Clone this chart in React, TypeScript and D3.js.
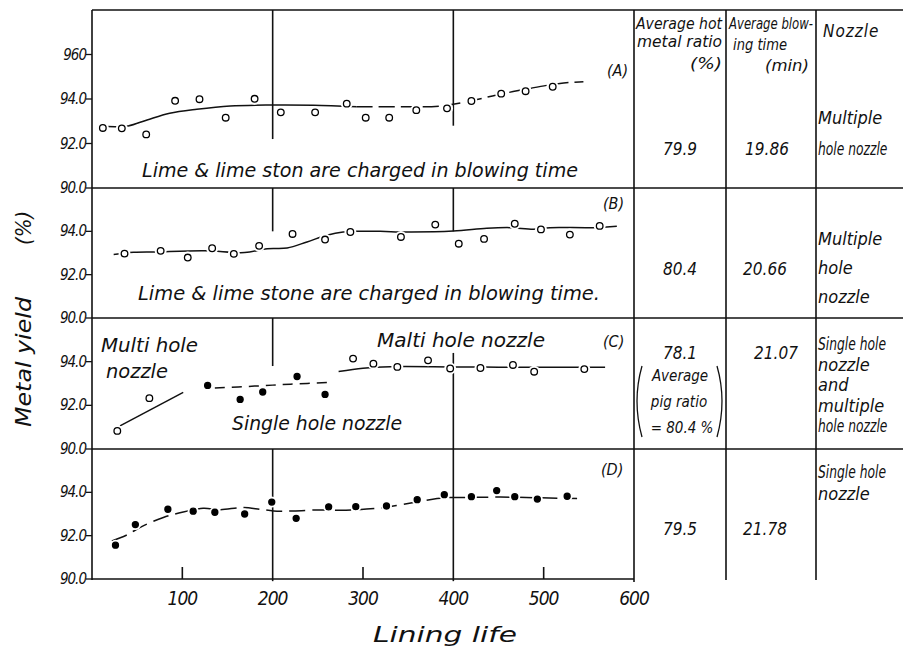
import * as d3 from 'd3';
import React from 'react';

// lining life (heats) / metal yield (%)
const aCircleX = [12, 33, 60, 92, 119, 148, 180, 209, 247, 282, 303, 329, 359, 393, 420, 453, 480, 510];
const aCircleY = [92.7, 92.68, 92.41, 93.92, 93.99, 93.16, 94.01, 93.4, 93.4, 93.79, 93.16, 93.16, 93.5, 93.58, 93.91, 94.24, 94.35, 94.55];
const aCurveSolidX = [17, 40, 61, 86, 116, 153, 199, 245, 293];
const aCurveSolidY = [92.76, 92.79, 93.06, 93.36, 93.54, 93.69, 93.73, 93.72, 93.65];
const aCurveDashX = [293, 345, 387, 415, 448, 485, 518, 544];
const aCurveDashY = [93.65, 93.65, 93.69, 93.88, 94.18, 94.48, 94.7, 94.78];

const bCircleX = [36, 76, 106, 133, 157, 185, 222, 258, 286, 342, 380, 406, 434, 468, 497, 529, 562];
const bCircleY = [92.97, 93.1, 92.79, 93.22, 92.96, 93.33, 93.88, 93.62, 93.97, 93.74, 94.31, 93.43, 93.65, 94.35, 94.09, 93.85, 94.25];
const bCurveX = [24, 46, 70, 125, 169, 194, 216, 238, 260, 278, 293, 319, 348, 400, 437, 463, 489, 507, 555, 581];
const bCurveY = [92.93, 93.03, 93.05, 93.1, 93.02, 93.2, 93.23, 93.51, 93.82, 93.97, 94.0, 94.0, 93.97, 94.01, 94.14, 94.17, 94.1, 94.17, 94.17, 94.24];

const cMultiLeftX = [28, 63.5];
const cMultiLeftY = [90.83, 92.33];
const cMultiLeftLineX = [31, 101];
const cMultiLeftLineY = [91.06, 92.59];
const cSingleX = [128, 164, 189, 227, 258];
const cSingleY = [92.91, 92.27, 92.61, 93.32, 92.5];
const cSingleLineX = [136, 180, 220, 264];
const cSingleLineY = [92.79, 92.88, 92.97, 93.05];
const cMultiRightX = [289, 311.5, 338, 372, 396.5, 430, 466, 489.5, 545];
const cMultiRightY = [94.14, 93.91, 93.76, 94.06, 93.69, 93.71, 93.85, 93.54, 93.66];
const cMultiRightLineX = [273, 300, 330, 400, 450, 500, 568];
const cMultiRightLineY = [93.55, 93.7, 93.77, 93.76, 93.75, 93.74, 93.75];

const dDotX = [26, 48, 84, 112, 136, 169, 199, 226, 262, 292, 326, 360, 390, 420, 448, 468, 493, 526];
const dDotY = [91.56, 92.51, 93.22, 93.13, 93.08, 93.0, 93.55, 92.8, 93.33, 93.34, 93.37, 93.66, 93.89, 93.8, 94.08, 93.8, 93.69, 93.82];
const dCurveX = [22, 38, 55, 79, 101, 123, 142, 167, 186, 201, 223, 252, 276, 319, 345, 382, 393, 407, 452, 537];
const dCurveY = [91.76, 92.02, 92.42, 92.84, 93.09, 93.26, 93.2, 93.3, 93.22, 93.14, 93.14, 93.19, 93.17, 93.28, 93.45, 93.71, 93.76, 93.76, 93.78, 93.71];

const xTicks = [100, 200, 300, 400, 500, 600];
const aTicks = ['90.0', '92.0', '94.0', '960'];
const bcdTicks = ['90.0', '92.0', '94.0'];
const avgHotMetal = ['79.9', '80.4', '78.1', '79.5'];
const avgBlowTime = ['19.86', '20.66', '21.07', '21.78'];
const nozzleLines = [
  ['Multiple', 'hole nozzle'],
  ['Multiple', 'hole', 'nozzle'],
  ['Single hole', 'nozzle', 'and', 'multiple', 'hole nozzle'],
  ['Single hole', 'nozzle'],
];

const FONT = "'DejaVu Sans Condensed', 'Liberation Sans Narrow', sans-serif";
const zip = (xs: number[], ys: number[]) => xs.map((x, i) => [x, ys[i]] as [number, number]);

const App = () => {
  const x = d3.scaleLinear().domain([0, 600]).range([92, 634]);
  // one y scale per panel
  const yA = d3.scaleLinear().domain([90, 98]).range([188, 10]);
  const yB = d3.scaleLinear().domain([90, 96]).range([318, 188]);
  const yC = d3.scaleLinear().domain([90, 96]).range([449, 318]);
  const yD = d3.scaleLinear().domain([90, 96]).range([579, 449]);

  const lineOf = (y: d3.ScaleLinear<number, number>, xs: number[], ys: number[]) =>
    d3
      .line<[number, number]>()
      .x((d) => x(d[0]))
      .y((d) => y(d[1]))
      .curve(d3.curveCatmullRom.alpha(0.5))(zip(xs, ys)) || '';

  const circles = (y: d3.ScaleLinear<number, number>, xs: number[], ys: number[], filled: boolean, key: string) =>
    xs.map((v, i) => (
      <g key={key + i}>
        <circle cx={x(v)} cy={y(ys[i])} r={filled ? 5.5 : 6} fill="white" />
        <circle
          cx={x(v)}
          cy={y(ys[i])}
          r={filled ? 3 : 3.3}
          fill={filled ? 'black' : 'white'}
          stroke="black"
          strokeWidth={1.3}
        />
      </g>
    ));

  const stroke = { stroke: '#111', strokeWidth: 1.5, fill: 'none' };
  const txt = { fontFamily: FONT, fontStyle: 'italic' as const, fill: '#111' };

  const yTickLabels = (y: d3.ScaleLinear<number, number>, labels: string[], key: string) =>
    labels.map((l) => {
      const v = l === '960' ? 96 : parseFloat(l);
      return (
        <g key={key + l}>
          <line x1={86} x2={92} y1={y(v)} y2={y(v)} stroke="#111" strokeWidth={1.3} />
          <text x={86} y={y(v) + 5} textAnchor="end" fontSize={15} letterSpacing={-1} {...txt}>
            {l}
          </text>
        </g>
      );
    });

  const rowMid = [148, 268, 352, 528];

  return (
    <svg
      width={903}
      height={650}
      style={{ position: 'absolute', left: 0, top: 0, background: 'white' }}
    >
      <rect width={903} height={650} fill="white" />

      {/* frame */}
      <g stroke="#111" strokeWidth={1.6}>
        <line x1={92} x2={92} y1={10} y2={580} />
        <line x1={634} x2={634} y1={10} y2={582} />
        <line x1={726} x2={726} y1={10} y2={580} />
        <line x1={816} x2={816} y1={10} y2={580} />
        {[10, 188, 318, 449].map((yy) => (
          <line key={yy} x1={92} x2={903} y1={yy} y2={yy} />
        ))}
        <line x1={92} x2={634} y1={579} y2={579} />
        {/* partial verticals at 200 and 400 */}
        <line x1={x(200)} x2={x(200)} y1={yA(98)} y2={yA(92.2)} />
        <line x1={x(400)} x2={x(400)} y1={yA(98)} y2={yA(92.8)} />
        <line x1={x(200)} x2={x(200)} y1={yB(96)} y2={yB(94)} />
        <line x1={x(400)} x2={x(400)} y1={yB(96)} y2={yB(94)} />
        <line x1={x(200)} x2={x(200)} y1={yC(96)} y2={yC(93.8)} />
        <line x1={x(400)} x2={x(400)} y1={yC(94.4)} y2={yC(90)} />
        <line x1={x(200)} x2={x(200)} y1={yD(96)} y2={yD(89.9)} />
        <line x1={x(400)} x2={x(400)} y1={yD(96)} y2={yD(89.9)} />
        {[100, 300, 500].map((t) => (
          <line key={t} x1={x(t)} x2={x(t)} y1={yD(90)} y2={yD(90) - 12} />
        ))}
      </g>

      {/* y tick labels */}
      {yTickLabels(yA, aTicks, 'a')}
      {yTickLabels(yB, bcdTicks, 'b')}
      {yTickLabels(yC, bcdTicks, 'c')}
      {yTickLabels(yD, bcdTicks, 'd')}

      {/* x tick labels */}
      {xTicks.map((t) => (
        <text key={t} x={x(t)} y={605} textAnchor="middle" fontSize={19} letterSpacing={-1} {...txt}>
          {t}
        </text>
      ))}
      <text x={373} y={642} fontSize={22} textLength={144} lengthAdjust="spacingAndGlyphs" {...txt}>
        Lining life
      </text>
      <text transform="translate(31,427) rotate(-90)" fontSize={22} {...txt}>
        <tspan textLength={130} lengthAdjust="spacingAndGlyphs">Metal yield</tspan>
        <tspan dx={52}>(%)</tspan>
      </text>

      {/* panel A */}
      <path d={lineOf(yA, aCurveSolidX, aCurveSolidY)} {...stroke} />
      <path d={lineOf(yA, aCurveDashX, aCurveDashY)} {...stroke} strokeDasharray="16 6" />
      {circles(yA, aCircleX, aCircleY, false, 'a')}
      <text x={607} y={76} fontSize={16} {...txt}>(A)</text>
      <text x={142} y={177} fontSize={19} textLength={436} lengthAdjust="spacingAndGlyphs" {...txt}>
        Lime &amp; lime ston are charged in blowing time
      </text>

      {/* panel B */}
      <path d={lineOf(yB, bCurveX, bCurveY)} {...stroke} />
      {circles(yB, bCircleX, bCircleY, false, 'b')}
      <text x={603} y={209} fontSize={16} {...txt}>(B)</text>
      <text x={138} y={300} fontSize={19} textLength={462} lengthAdjust="spacingAndGlyphs" {...txt}>
        Lime &amp; lime stone are charged in blowing time.
      </text>

      {/* panel C */}
      <path d={lineOf(yC, cMultiLeftLineX, cMultiLeftLineY)} {...stroke} />
      <path d={lineOf(yC, cSingleLineX, cSingleLineY)} {...stroke} strokeDasharray="10 7" />
      <path d={lineOf(yC, cMultiRightLineX, cMultiRightLineY)} {...stroke} />
      {circles(yC, cMultiLeftX, cMultiLeftY, false, 'cl')}
      {circles(yC, cSingleX, cSingleY, true, 'cs')}
      {circles(yC, cMultiRightX, cMultiRightY, false, 'cr')}
      <text x={101} y={352} fontSize={19} textLength={97} lengthAdjust="spacingAndGlyphs" {...txt}>Multi hole</text>
      <text x={106} y={378} fontSize={19} textLength={62} lengthAdjust="spacingAndGlyphs" {...txt}>nozzle</text>
      <text x={377} y={347} fontSize={19} textLength={168} lengthAdjust="spacingAndGlyphs" {...txt}>Malti hole nozzle</text>
      <text x={232} y={430} fontSize={19} textLength={170} lengthAdjust="spacingAndGlyphs" {...txt}>Single hole nozzle</text>
      <text x={603} y={347} fontSize={16} {...txt}>(C)</text>

      {/* panel D */}
      <path d={lineOf(yD, dCurveX, dCurveY)} {...stroke} strokeDasharray="16 7" />
      {circles(yD, dDotX, dDotY, true, 'd')}
      <text x={601} y={475} fontSize={16} {...txt}>(D)</text>

      {/* table header */}
      <g fontSize={15} {...txt}>
        <text x={636} y={29} textLength={86} lengthAdjust="spacingAndGlyphs">Average hot</text>
        <text x={637} y={47} textLength={85} lengthAdjust="spacingAndGlyphs">metal ratio</text>
        <text x={690} y={69} textLength={32} lengthAdjust="spacingAndGlyphs">(%)</text>
        <text x={729} y={29} textLength={84} lengthAdjust="spacingAndGlyphs">Average blow-</text>
        <text x={733} y={50} textLength={54} lengthAdjust="spacingAndGlyphs">ing time</text>
        <text x={765} y={71} textLength={44} lengthAdjust="spacingAndGlyphs">(min)</text>
        <text x={823} y={37} fontSize={17} letterSpacing={1}>Nozzle</text>
      </g>

      {/* table values */}
      {avgHotMetal.map((v, i) => (
        <text key={'h' + v} x={680} y={rowMid[i] + 7} textAnchor="middle" fontSize={17} {...txt}>
          {v}
        </text>
      ))}
      {avgBlowTime.map((v, i) => (
        <text key={'b' + v} x={[767, 765, 776, 765][i]} y={rowMid[i] + 7} textAnchor="middle" fontSize={17} {...txt}>
          {v}
        </text>
      ))}
      <g fontSize={15} {...txt}>
        <text x={680} y={381} textAnchor="middle">Average</text>
        <text x={679} y={407} textAnchor="middle">pig ratio</text>
        <text x={682} y={433} textAnchor="middle">= 80.4 %</text>
        <path d="M642,366 Q632,401 642,437" stroke="#111" strokeWidth={1.3} fill="none" />
        <path d="M717,366 Q727,401 717,437" stroke="#111" strokeWidth={1.3} fill="none" />
      </g>
      {nozzleLines.map((lines, i) => {
        const start = [124, 245, 350, 478][i];
        const gap = [31, 29, 20.5, 22][i];
        return lines.map((l, j) => {
          // long lines get squeezed horizontally so they stay inside the page
          const sx = l.length >= 11 ? 0.76 : 1;
          return (
            <text
              key={'n' + i + j}
              transform={`translate(818,${start + j * gap}) scale(${sx},1)`}
              fontSize={18}
              {...txt}
            >
              {l}
            </text>
          );
        });
      })}
    </svg>
  );
};

export default App;
